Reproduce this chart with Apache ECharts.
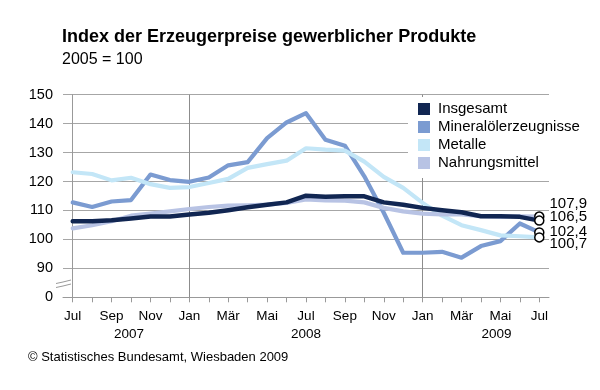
<!DOCTYPE html>
<html>
<head>
<meta charset="utf-8">
<script src="https://cdn.jsdelivr.net/npm/echarts@6/dist/echarts.min.js"></script>
<style>
html,body{margin:0;padding:0;background:#fff;}
#c{width:600px;height:390px;}
</style>
</head>
<body>
<div id="c"></div>
<script>
const months = ['Jul','Aug','Sep','Okt','Nov','Dez','Jan','Feb','Mär','Apr','Mai','Jun','Jul','Aug','Sep','Okt','Nov','Dez','Jan','Feb','Mär','Apr','Mai','Jun','Jul'];
const yearLabels = ['2007','2008','2009'];
const yearPositions = [2.9, 12, 21.8];
const insgesamt = [106.3,106.3,106.6,107.2,107.9,107.9,108.6,109.2,110.1,111.1,112.0,112.8,115.1,114.7,114.9,114.9,112.8,112.0,110.9,110.1,109.4,108.0,108.0,107.8,106.5];
const mineraloel = [112.8,111.2,113.1,113.6,122.4,120.5,119.9,121.4,125.6,126.7,135.0,140.4,143.6,134.4,132.4,121.8,109.2,95.4,95.4,95.7,93.7,97.7,99.4,105.5,102.4];
const metalle = [123.2,122.6,120.4,121.3,119.1,117.8,118.1,119.5,120.9,124.7,126.0,127.2,131.5,131.0,130.7,126.9,121.6,117.8,112.6,108.2,104.9,103.2,101.4,101.1,100.7];
const nahrung = [103.8,104.9,106.3,108.2,108.9,109.7,110.5,111.2,111.7,111.8,112.0,112.6,113.8,113.5,113.4,112.8,110.9,109.7,108.9,108.6,108.6,108.0,107.8,108.0,107.9];
const seriesNames = ['Insgesamt','Mineralölerzeugnisse','Metalle','Nahrungsmittel'];
const yTicks = [80,90,100,110,120,130,140,150];
const yTickText = ['0','90','100','110','120','130','140','150'];
const janIndices = [6, 18];

const colors = ['#112652','#7b9bd1','#c3e6f7','#b8c3e4'];
const labelOffsets = [-4, -1, 6, -13];
const zs = [6, 3, 3, 4];
const datasets = [insgesamt, mineraloel, metalle, nahrung];

const chart = echarts.init(document.getElementById('c'), null, {renderer:'canvas'});
const fontFamily = '"Liberation Sans", Arial, sans-serif';
const last = months.length - 1;

const series = datasets.map((d, k) => ({
  name: seriesNames[k],
  type: 'line',
  z: zs[k],
  data: d.map((v, i) => i === last ? {
    value: v,
    symbolSize: 9,
    label: {
      show: true, position: 'right', distance: 5,
      offset: [0, labelOffsets[k]],
      formatter: (p) => String(p.value).replace('.', ','),
      color: '#000', fontSize: 15, fontFamily
    }
  } : v),
  showSymbol: true,
  symbol: 'circle',
  symbolSize: 0,
  itemStyle: {color: '#fff', borderColor: '#000', borderWidth: 1.5},
  lineStyle: {color: colors[k], width: k === 0 ? 4.5 : 4.2, cap: 'round', join: 'round'},
  color: colors[k],
  animation: false,
  silent: true,
  markLine: k === 2 ? {
    silent: true, symbol: 'none', z: 1, animation: false,
    label: {show: false},
    lineStyle: {color: '#8c8c8c', width: 1, type: 'solid'},
    data: janIndices.map(j => [{coord: [j, 80]}, {coord: [j, 150]}])
  } : undefined
}));

chart.setOption({
  animation: false,
  textStyle: {fontFamily},
  title: [
    {text: 'Index der Erzeugerpreise gewerblicher Produkte', left: 62, top: 27, padding: 0,
     textStyle: {fontSize: 18, fontWeight: 'bold', color: '#000', fontFamily, lineHeight: 20}},
    {text: '2005 = 100', left: 62, top: 51, padding: 0,
     textStyle: {fontSize: 16, fontWeight: 'normal', color: '#000', fontFamily, lineHeight: 18}},
    {text: '© Statistisches Bundesamt, Wiesbaden 2009', left: 28, top: 349.5, padding: 0,
     textStyle: {fontSize: 13, fontWeight: 'normal', color: '#000', fontFamily, lineHeight: 15}}
  ],
  legend: {
    data: seriesNames.map((n, k) => ({name: n, itemStyle: {color: colors[k], borderWidth: 0}})),
    orient: 'vertical', left: 408, top: 97,
    padding: [3, 20, 6, 10],
    itemWidth: 12, itemHeight: 12, itemGap: 0,
    icon: 'rect',
    backgroundColor: '#fff',
    textStyle: {fontSize: 15, color: '#000', fontFamily, lineHeight: 18, padding: [0,0,0,3]},
    selectedMode: false,
    z: 10
  },
  grid: {left: 63, right: 51, top: 94.7, bottom: 92.7, containLabel: false},
  xAxis: [{
    type: 'category', data: months, boundaryGap: true,
    axisLine: {lineStyle: {color: '#999', width: 1}},
    axisTick: {show: true, alignWithLabel: true, interval: 0, length: 5, lineStyle: {color: '#999'}},
    axisLabel: {interval: 1, color: '#000', fontSize: 13.5, fontFamily, margin: 12},
    splitLine: {show: false}
  }, {
    type: 'value', min: -0.5, max: 24.5, position: 'bottom', offset: 18,
    axisLine: {show: false}, axisTick: {show: false}, splitLine: {show: false},
    axisLabel: {
      customValues: yearPositions,
      formatter: (v) => yearLabels[yearPositions.indexOf(v)] || '',
      color: '#000', fontSize: 13.5, fontFamily, margin: 12, showMinLabel: true, showMaxLabel: true
    }
  }],
  yAxis: {
    type: 'value', min: 80, max: 150, interval: 10,
    axisLine: {show: true, lineStyle: {color: '#999'}},
    axisTick: {show: false},
    axisLabel: {color: '#000', fontSize: 14.5, fontFamily, margin: 10,
      formatter: (v) => yTickText[yTicks.indexOf(v)]},
    splitLine: {lineStyle: {color: '#a6a6a6', width: 1}}
  },
  graphic: [
    {type: 'rect', shape: {x: 60, y: 280, width: 7, height: 7}, style: {fill: '#fff'}, z: 20},
    {type: 'polyline', shape: {points: [[56,283.5],[63,282],[71,280]]}, style: {stroke: '#999', lineWidth: 1, fill: null}, z: 21},
    {type: 'polyline', shape: {points: [[56,287.5],[63,286],[71,284]]}, style: {stroke: '#999', lineWidth: 1, fill: null}, z: 21}
  ],
  series
});
</script>
</body>
</html>
